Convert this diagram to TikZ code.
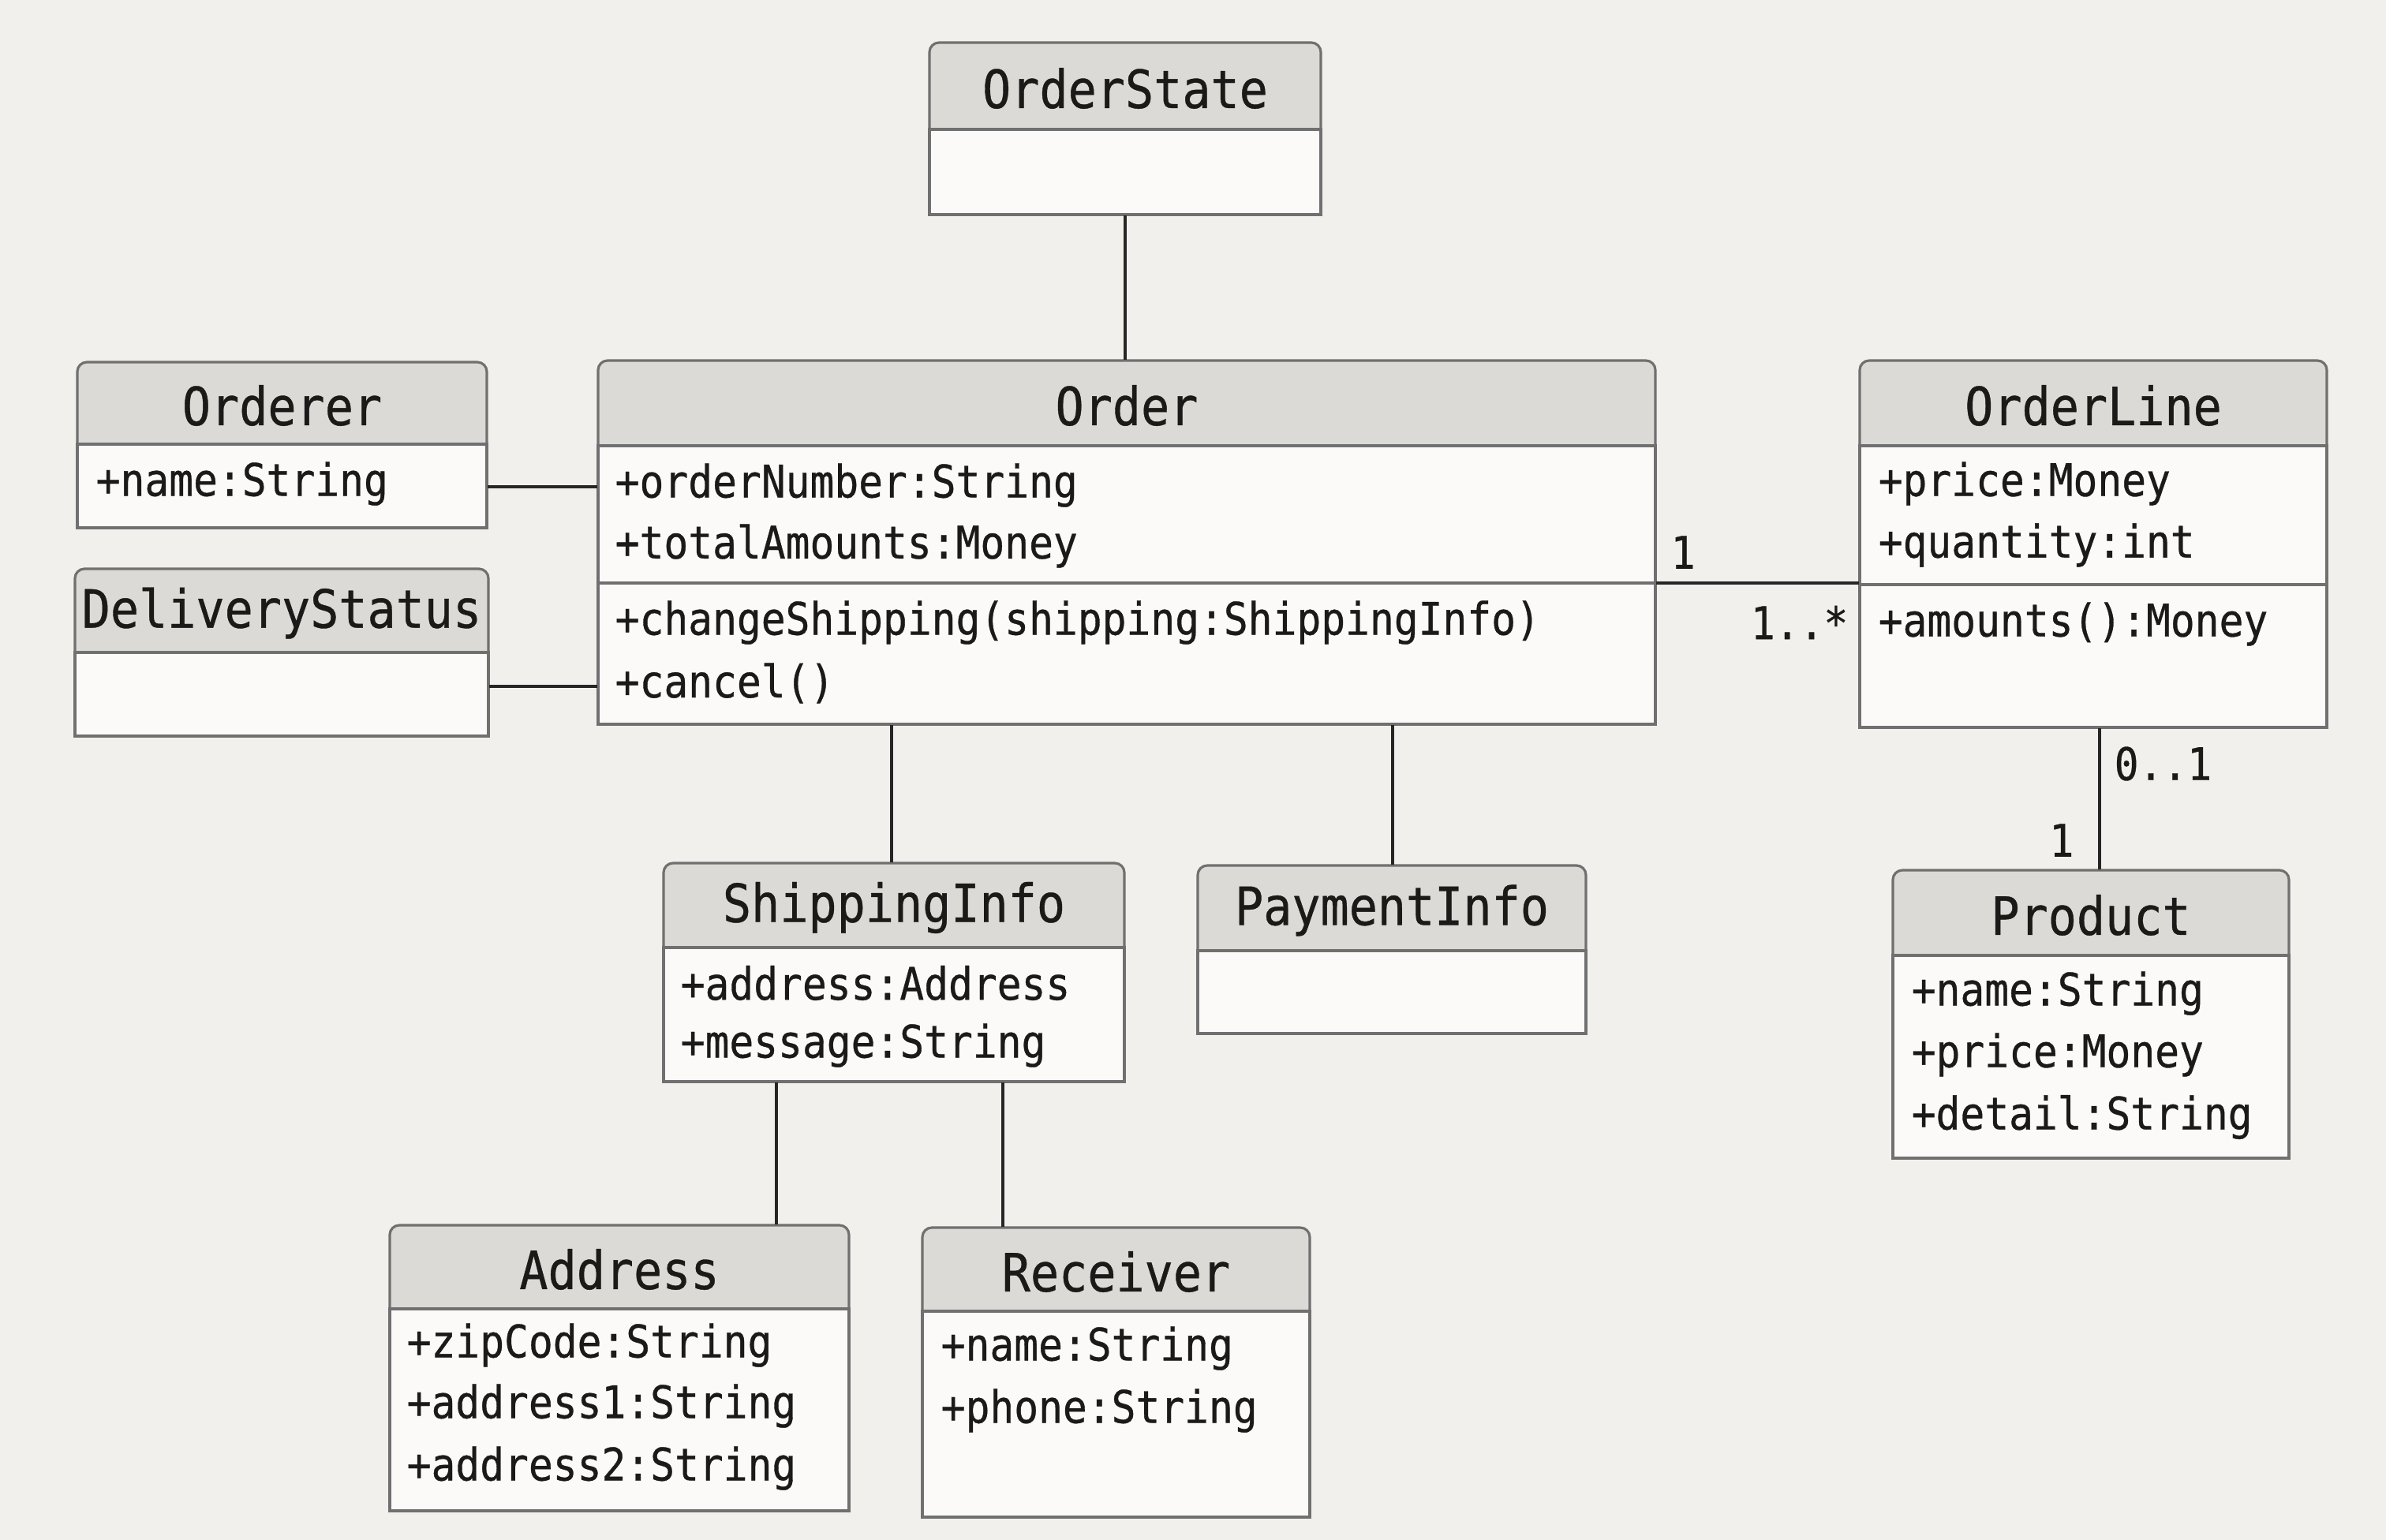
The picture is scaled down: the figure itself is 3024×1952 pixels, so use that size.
\documentclass[tikz,border=0pt]{standalone}
\usepackage{fontspec}
\setmonofont[FakeStretch=0.9, FakeBold=0.6]{DejaVu Sans Mono}
\usetikzlibrary{fit,calc}
\definecolor{paper}{HTML}{F2F0EC}
\definecolor{hdr}{HTML}{DCDAD6}
\definecolor{bodyc}{HTML}{FBFAF8}
\definecolor{edge}{HTML}{707070}
\definecolor{ink}{HTML}{1C1A18}
\tikzset{
  classedge/.style={draw=edge, line width=0.9pt},
  titletext/.style={font=\ttfamily\fontsize{19}{22}\selectfont, text=ink, inner sep=0, anchor=center},
  membertext/.style={font=\ttfamily\fontsize{16.2}{19}\selectfont, text=ink, inner sep=0, anchor=west},
  multtext/.style={font=\ttfamily\fontsize{16.2}{19}\selectfont, text=ink, inner sep=0},
  assoc/.style={draw=black!85, line width=1.1pt},
}
% name, x1, y1, x2, y2, yheader, title
\newcommand{\umlbox}[7]{%
  \path[classedge, fill=hdr, rounded corners=1.2mm] (#2,#3) rectangle (#4,#6+40);
  \path[classedge, fill=bodyc] (#2,#6) rectangle (#4,#5);
  \node[fit={(#2,#3)(#4,#5)}, inner sep=0] (#1) {};
  \node[titletext] (#1-t) at ({(#2+#4)/2},{(#3+#6)/2+3}) {#7};
}
\begin{document}
\begin{tikzpicture}[x=0.1mm, y=-0.1mm]
\useasboundingbox (0,0) rectangle (3024,1952);
\fill[paper] (0,0) rectangle (3024,1952);

% classes
\umlbox{orderstate}{1178}{54}{1674}{272}{164}{OrderState}
\umlbox{orderer}{98}{459}{617}{669}{563}{Orderer}
\umlbox{deliv}{95}{721}{619}{933}{827}{DeliveryStatus}
\umlbox{order}{758}{457}{2098}{918}{565}{Order}
\umlbox{orderline}{2357}{457}{2949}{922}{565}{OrderLine}
\umlbox{shipping}{841}{1094}{1425}{1371}{1201}{ShippingInfo}
\umlbox{payment}{1518}{1097}{2010}{1310}{1205}{PaymentInfo}
\umlbox{product}{2399}{1103}{2901}{1468}{1211}{Product}
\umlbox{address}{494}{1553}{1076}{1915}{1659}{Address}
\umlbox{receiver}{1169}{1556}{1660}{1923}{1662}{Receiver}

% compartment dividers
\draw[classedge] (758,739) -- (2098,739);
\draw[classedge] (2357,741) -- (2949,741);

% members
\node[membertext] (orderer-a1) at (121,613) {+name:String};

\node[membertext] (order-a1) at (779,615) {+orderNumber:String};
\node[membertext] (order-a2) at (779,692) {+totalAmounts:Money};
\node[membertext] (order-m1) at (779,789) {+changeShipping(shipping:ShippingInfo)};
\node[membertext] (order-m2) at (779,866) {+cancel()};

\node[membertext] (ol-a1) at (2380,613) {+price:Money};
\node[membertext] (ol-a2) at (2380,691) {+quantity:int};
\node[membertext] (ol-m1) at (2380,791) {+amounts():Money};

\node[membertext] (ship-a1) at (862,1246) {+address:Address};
\node[membertext] (ship-a2) at (862,1325) {+message:String};

\node[membertext] (prod-a1) at (2422,1259) {+name:String};
\node[membertext] (prod-a2) at (2422,1337) {+price:Money};
\node[membertext] (prod-a3) at (2422,1416) {+detail:String};

\node[membertext] (addr-a1) at (515,1705) {+zipCode:String};
\node[membertext] (addr-a2) at (515,1782) {+address1:String};
\node[membertext] (addr-a3) at (515,1861) {+address2:String};

\node[membertext] (recv-a1) at (1192,1709) {+name:String};
\node[membertext] (recv-a2) at (1192,1788) {+phone:String};

% link anchors
\coordinate (yorderer) at (0,617);
\coordinate (ydeliv) at (0,870);
\coordinate (yline) at (0,739);
\coordinate (xship) at (1130,0);
\coordinate (xpay) at (1765,0);
\coordinate (xprod) at (2661,0);
\coordinate (xaddr) at (984,0);
\coordinate (xrecv) at (1271,0);

% associations
\draw[assoc] (orderstate.south) -- (orderstate.south |- order.north);
\draw[assoc] (orderer.east |- yorderer) -- (order.west |- yorderer);
\draw[assoc] (deliv.east |- ydeliv) -- (order.west |- ydeliv);
\draw[assoc] (order.east |- yline) -- (orderline.west |- yline);
\draw[assoc] (order.south -| xship) -- (shipping.north -| xship);
\draw[assoc] (order.south -| xpay) -- (payment.north -| xpay);
\draw[assoc] (orderline.south -| xprod) -- (product.north -| xprod);
\draw[assoc] (shipping.south -| xaddr) -- (address.north -| xaddr);
\draw[assoc] (shipping.south -| xrecv) -- (receiver.north -| xrecv);

% multiplicities
\node[multtext, anchor=west] (m1) at (2117,700) {1};
\node[multtext, anchor=east] (m2) at (2343,789) {1..*};
\node[multtext, anchor=west] (m3) at (2679,968) {0..1};
\node[multtext, anchor=east] (m4) at (2629,1065) {1};
\end{tikzpicture}
\end{document}
